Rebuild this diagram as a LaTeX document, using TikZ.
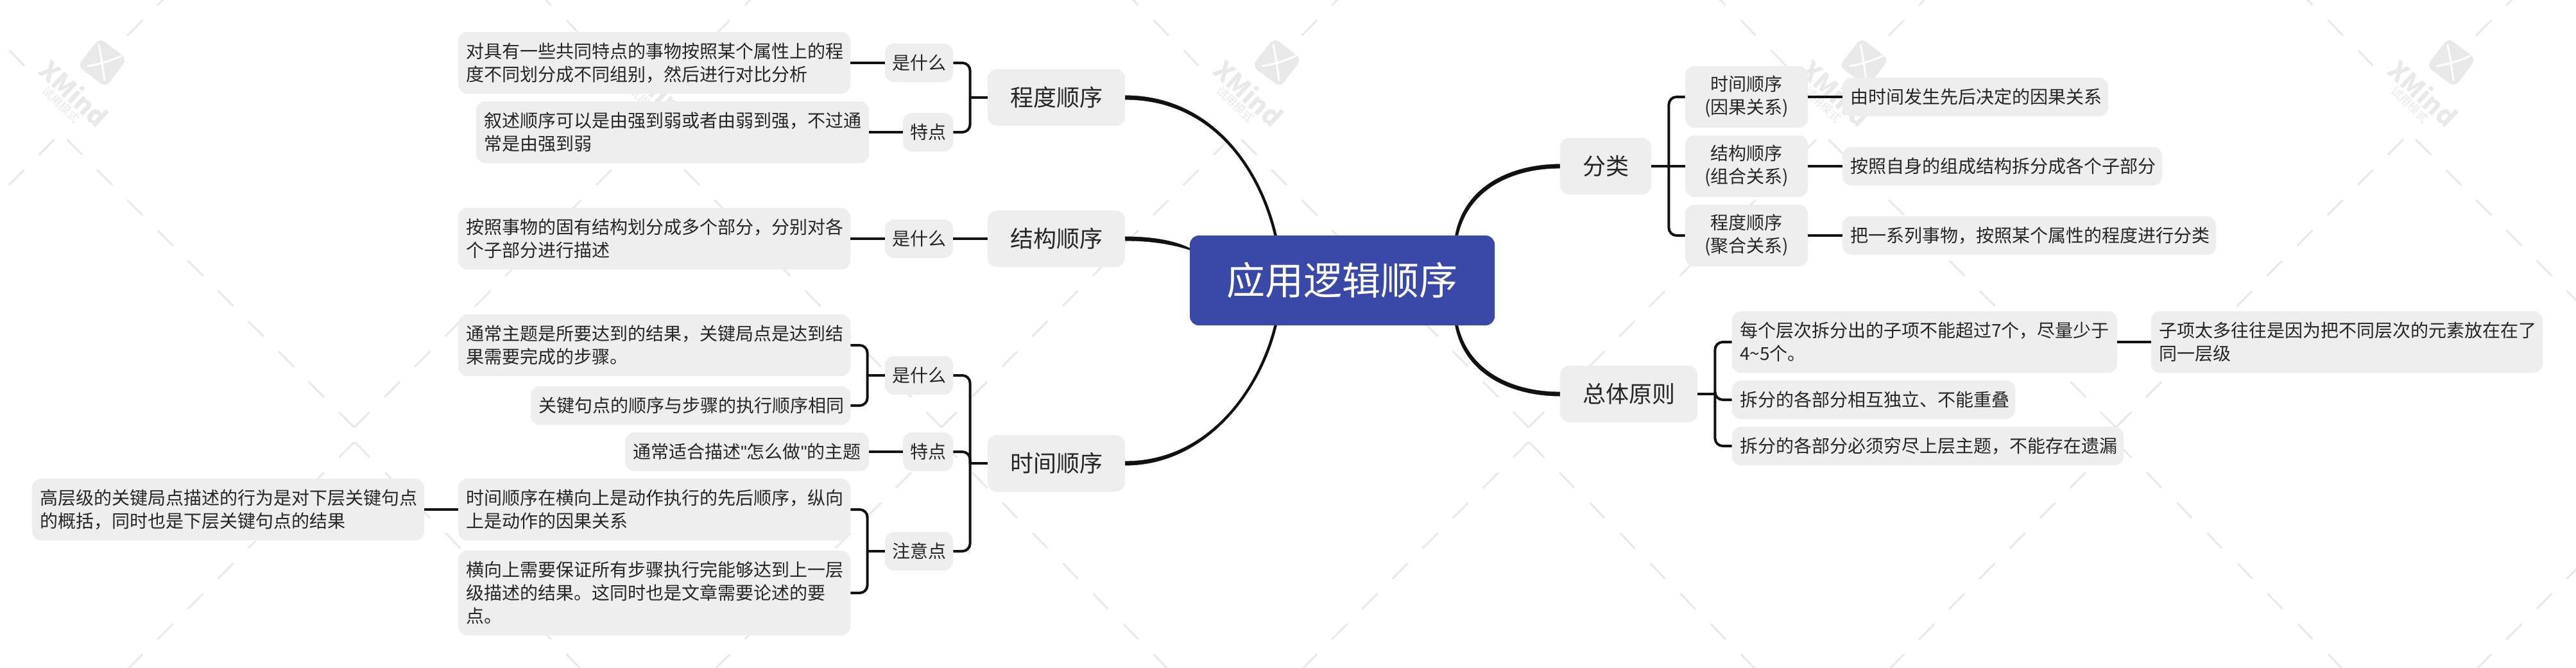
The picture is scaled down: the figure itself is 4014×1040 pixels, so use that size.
\documentclass[tikz,border=0pt]{standalone}
\usepackage{fontspec}
\setmainfont{Noto Sans CJK SC}
\newfontfamily\plainquote[Ligatures=NoCommon]{Liberation Sans}
\definecolor{boxgrey}{HTML}{EEEEEE}
\definecolor{rootblue}{HTML}{3A49A8}
\definecolor{inkblack}{HTML}{111111}
\definecolor{textink}{HTML}{262626}
\definecolor{wmgrey}{HTML}{E9E9E9}
\newcommand\mapstrut{\rule[\dimexpr.38em-.5\baselineskip\relax]{0pt}{\baselineskip}}
\tikzset{
  mapbox/.style={rectangle,rounded corners=7pt,fill=boxgrey,text=textink,inner ysep=0pt,
    execute at begin node=\mapstrut,execute at end node=\mapstrut},
  leafbox/.style={mapbox,inner xsep=6pt,align=left,font=\fontsize{14}{18}\selectfont},
  midbox/.style={mapbox,inner xsep=0pt,align=center,font=\fontsize{14}{18}\selectfont},
  branchbox/.style={mapbox,inner xsep=0pt,align=center,font=\fontsize{18}{22}\selectfont},
  rootbox/.style={mapbox,inner xsep=0pt,fill=rootblue,text=white,align=center,font=\fontsize{30}{36}\selectfont},
  link/.style={draw=inkblack,line width=2pt},
  elbow/.style={link,rounded corners=6pt},
  trunk/.style={fill=inkblack,draw=inkblack,line width=.2pt},
  wmdash/.style={draw=wmgrey,line width=1.5pt},
  wmtext/.style={text=wmgrey,inner sep=0pt},
}
\newcommand\leafnode[6]{%
  \pgfmathsetmacro\nodew{(#4-#2)/2}\pgfmathsetmacro\nodeh{(#5-#3)/2}\pgfmathsetmacro\nodet{\nodew-12}%
  \node[leafbox,minimum width=\nodew pt,minimum height=\nodeh pt,text width=\nodet pt] (#1) at ({(#2+#4)/2},{(#3+#5)/2}) {#6};}
\newcommand\midnode[7]{%
  \pgfmathsetmacro\nodew{(#5-#3)/2}\pgfmathsetmacro\nodeh{(#6-#4)/2}%
  \node[#1,minimum width=\nodew pt,minimum height=\nodeh pt] (#2) at ({(#3+#5)/2},{(#4+#6)/2}) {#7};}
\begin{document}
\begin{tikzpicture}[x=.5pt,y=-.5pt]
\useasboundingbox (0,0) rectangle (4014,1040);
\fill[white] (0,0) rectangle (4014,1040);
% watermark
\begin{scope}
\clip (0,0) rectangle (4014,1040);
\foreach \k in {-1,...,4} \foreach \w in {0,-988} {
  \begin{scope}[shift={(915*\k,\w)}]
    \foreach \i in {0,...,9} {
      \draw[wmdash] ({552-47.1*\i},{666-47.2*\i}) -- ++(-24,-24);
      \draw[wmdash] ({552+47.1*\i},{666-47.2*\i}) -- ++(24,-24);
    }
    \foreach \i in {0,...,8} \draw[wmdash] ({553+47.1*\i},{689+47.2*\i}) -- ++(23,24);
    \foreach \i in {0,...,7} \draw[wmdash] ({552-47.1*\i},{689+47.2*\i}) -- ++(-24,24);
  \end{scope}
}
\foreach \k in {0,...,4} {
  \begin{scope}[shift={(915*\k,0)}]
    \fill[wmgrey,rounded corners=5pt] (155,59) -- (198,92) -- (165,136) -- (121,103) -- cycle;
    \draw[white,line width=1.5pt,line cap=round] (154,70) .. controls (158,88) and (160,105) .. (163,125);
    \draw[white,line width=1.5pt,line cap=round] (137,103) .. controls (155,100) and (172,95) .. (189,87);
    \node[wmtext,rotate=-43,font=\fontsize{20}{24}\selectfont\bfseries] (wmx\k) at (116,145) {XMind};
    \node[wmtext,rotate=-43,font=\fontsize{9}{11}\selectfont] (wmt\k) at (95,163) {试用模式};
  \end{scope}
}
\end{scope}
% root
\midnode{rootbox}{root}{1854}{367}{2329}{507}{应用逻辑顺序}
% left branches
\midnode{branchbox}{cd}{1539}{108}{1753}{196}{程度顺序}
\midnode{branchbox}{jg}{1539}{328}{1753}{416}{结构顺序}
\midnode{branchbox}{sj}{1539}{678}{1753}{766}{时间顺序}
\midnode{midbox}{cda}{1379}{68}{1485}{128}{是什么}
\midnode{midbox}{cdb}{1407}{176}{1485}{236}{特点}
\midnode{midbox}{jga}{1379}{342}{1485}{402}{是什么}
\midnode{midbox}{sja}{1379}{555}{1485}{615}{是什么}
\midnode{midbox}{sjb}{1407}{674}{1485}{734}{特点}
\midnode{midbox}{sjc}{1379}{829}{1485}{889}{注意点}
\leafnode{cda1}{714}{50}{1325}{146}{对具有一些共同特点的事物按照某个属性上的程\\度不同划分成不同组别，然后进行对比分析}
\leafnode{cdb1}{742}{158}{1354}{254}{叙述顺序可以是由强到弱或者由弱到强，不过通\\常是由强到弱}
\leafnode{jga1}{714}{324}{1325}{420}{按照事物的固有结构划分成多个部分，分别对各\\个子部分进行描述}
\leafnode{sja1}{714}{490}{1325}{586}{通常主题是所要达到的结果，关键局点是达到结\\果需要完成的步骤。}
\leafnode{sja2}{827}{602}{1325}{662}{关键句点的顺序与步骤的执行顺序相同}
\leafnode{sjb1}{974}{674}{1354}{734}{通常适合描述{\plainquote"}怎么做{\plainquote"}的主题}
\leafnode{sjc1}{714}{746}{1325}{842}{时间顺序在横向上是动作执行的先后顺序，纵向\\上是动作的因果关系}
\leafnode{sjc2}{714}{858}{1325}{990}{横向上需要保证所有步骤执行完能够达到上一层\\级描述的结果。这同时也是文章需要论述的要\\点。}
\leafnode{sjc1a}{50}{746}{661}{842}{高层级的关键局点描述的行为是对下层关键句点\\的概括，同时也是下层关键句点的结果}
% right branches
\midnode{branchbox}{fl}{2431}{215}{2573}{303}{分类}
\midnode{branchbox}{zt}{2431}{570}{2645}{658}{总体原则}
\midnode{midbox}{fla}{2626}{103}{2817}{199}{时间顺序\\(因果关系)}
\midnode{midbox}{flb}{2626}{211}{2817}{307}{结构顺序\\(组合关系)}
\midnode{midbox}{flc}{2626}{319}{2817}{415}{程度顺序\\(聚合关系)}
\leafnode{fla1}{2871}{121}{3285}{181}{由时间发生先后决定的因果关系}
\leafnode{flb1}{2871}{229}{3369}{289}{按照自身的组成结构拆分成各个子部分}
\leafnode{flc1}{2871}{337}{3453}{397}{把一系列事物，按照某个属性的程度进行分类}
\leafnode{zta}{2699}{485}{3299}{581}{每个层次拆分出的子项不能超过7个，尽量少于\\4{\char"007E}5个。}
\leafnode{ztb}{2699}{593}{3140}{653}{拆分的各部分相互独立、不能重叠}
\leafnode{ztc}{2699}{665}{3309}{725}{拆分的各部分必须穷尽上层主题，不能存在遗漏}
\leafnode{zta1}{3352}{485}{3962}{581}{子项太多往往是因为把不同层次的元素放在在了\\同一层级}
% trunk connectors
\draw[trunk] ([yshift=1.6pt]cd.east) .. controls (1880,149) and (1962,250) .. ([xshift=-51pt]root.north)
  -- ([xshift=-53pt]root.north) .. controls (1958,252) and (1880,155) .. ([yshift=-1.6pt]cd.east) -- cycle;
\draw[trunk] ([yshift=1.6pt]jg.east) .. controls (1790,369) and (1825,373) .. ([yshift=-.8pt]root.west|-1854,385)
  -- ([yshift=-2.2pt]root.west|-1854,385) .. controls (1825,380) and (1790,375) .. ([yshift=-1.6pt]jg.east) -- cycle;
\draw[trunk] ([yshift=-1.6pt]sj.east) .. controls (1880,725) and (1965,610) .. ([xshift=-51pt]root.south)
  -- ([xshift=-53pt]root.south) .. controls (1960,610) and (1880,719) .. ([yshift=1.6pt]sj.east) -- cycle;
\draw[trunk] ([yshift=1.6pt]fl.west) .. controls (2360,256) and (2283,286) .. ([xshift=88pt]root.north)
  -- ([xshift=90.2pt]root.north) .. controls (2289,292) and (2360,262) .. ([yshift=-1.6pt]fl.west) -- cycle;
\draw[trunk] ([yshift=-1.6pt]zt.west) .. controls (2360,617) and (2283,587) .. ([xshift=88pt]root.south)
  -- ([xshift=90.2pt]root.south) .. controls (2289,581) and (2360,611) .. ([yshift=1.6pt]zt.west) -- cycle;
% elbows: left
\coordinate (scd) at ([xshift=-13.5pt]cd.west);
\draw[link] (cd.west) -- (scd);
\draw[elbow] (cda.east) -| (scd);
\draw[elbow] (cdb.east) -| (scd);
\draw[link] (cda.west) -- (cda1.east);
\draw[link] (cdb.west) -- (cdb1.east);
\draw[link] (jg.west) -- (jga.east);
\draw[link] (jga.west) -- (jga1.east);
\coordinate (ssj) at ([xshift=-13.5pt]sj.west);
\draw[link] (sj.west) -- (ssj);
\draw[elbow] (sja.east) -| (ssj);
\draw[elbow] (sjb.east) -| (ssj);
\draw[elbow] (sjc.east) -| (ssj);
\coordinate (ssja) at ([xshift=-13.5pt]sja.west);
\draw[link] (sja.west) -- (ssja);
\draw[elbow] (sja1.east) -| (ssja);
\draw[elbow] (sja2.east) -| (ssja);
\draw[link] (sjb.west) -- (sjb1.east);
\coordinate (ssjc) at ([xshift=-13.5pt]sjc.west);
\draw[link] (sjc.west) -- (ssjc);
\draw[elbow] (sjc1.east) -| (ssjc);
\draw[elbow] (sjc2.east) -| (ssjc);
\draw[link] (sjc1a.east) -- (sjc1.west);
% elbows: right
\coordinate (sfl) at ([xshift=13.5pt]fl.east);
\draw[link] (fl.east) -- (flb.west);
\draw[elbow] (fla.west) -| (sfl);
\draw[elbow] (flc.west) -| (sfl);
\draw[link] (fla.east) -- (fla1.west);
\draw[link] (flb.east) -- (flb1.west);
\draw[link] (flc.east) -- (flc1.west);
\coordinate (szt) at ([xshift=13.5pt]zt.east);
\draw[link] (zt.east) -- (szt);
\draw[elbow] (zta.west) -| (szt);
\draw[elbow] (ztb.west) -| (szt);
\draw[elbow] (ztc.west) -| (szt);
\draw[link] (zta.east) -- (zta1.west);
\end{tikzpicture}
\end{document}
